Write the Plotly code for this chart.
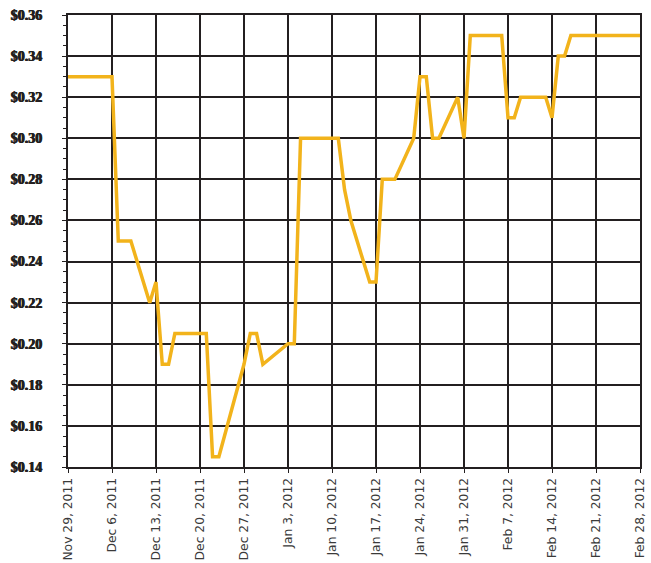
import plotly.graph_objects as go

dates = [
    "2011-11-29", "2011-11-30", "2011-12-01", "2011-12-02", "2011-12-05", "2011-12-06",
    "2011-12-07", "2011-12-08", "2011-12-09", "2011-12-12", "2011-12-13", "2011-12-14",
    "2011-12-15", "2011-12-16", "2011-12-19", "2011-12-20", "2011-12-21", "2011-12-22",
    "2011-12-23", "2011-12-27", "2011-12-28", "2011-12-29", "2011-12-30", "2012-01-03",
    "2012-01-04", "2012-01-05", "2012-01-06", "2012-01-09", "2012-01-10", "2012-01-11",
    "2012-01-12", "2012-01-13", "2012-01-16", "2012-01-17", "2012-01-18", "2012-01-19",
    "2012-01-20", "2012-01-23", "2012-01-24", "2012-01-25", "2012-01-26", "2012-01-27",
    "2012-01-30", "2012-01-31", "2012-02-01", "2012-02-02", "2012-02-03", "2012-02-06",
    "2012-02-07", "2012-02-08", "2012-02-09", "2012-02-10", "2012-02-13", "2012-02-14",
    "2012-02-15", "2012-02-16", "2012-02-17", "2012-02-20", "2012-02-21", "2012-02-22",
    "2012-02-23", "2012-02-24", "2012-02-27", "2012-02-28",
]
prices = [
    0.33, 0.33, 0.33, 0.33, 0.33, 0.33,
    0.25, 0.25, 0.25, 0.22, 0.23, 0.19,
    0.19, 0.205, 0.205, 0.205, 0.205, 0.145,
    0.145, 0.19, 0.205, 0.205, 0.19, 0.20,
    0.20, 0.30, 0.30, 0.30, 0.30, 0.30,
    0.275, 0.26, 0.23, 0.23, 0.28, 0.28,
    0.28, 0.30, 0.33, 0.33, 0.30, 0.30,
    0.32, 0.30, 0.35, 0.35, 0.35, 0.35,
    0.31, 0.31, 0.32, 0.32, 0.32, 0.31,
    0.34, 0.34, 0.35, 0.35, 0.35, 0.35,
    0.35, 0.35, 0.35, 0.35,
]

tick_dates = [
    "2011-11-29", "2011-12-06", "2011-12-13", "2011-12-20", "2011-12-27", "2012-01-03",
    "2012-01-10", "2012-01-17", "2012-01-24", "2012-01-31", "2012-02-07", "2012-02-14",
    "2012-02-21", "2012-02-28",
]
tick_labels = [
    "Nov 29, 2011", "Dec 6, 2011", "Dec 13, 2011", "Dec 20, 2011", "Dec 27, 2011",
    "Jan 3, 2012", "Jan 10, 2012", "Jan 17, 2012", "Jan 24, 2012", "Jan 31, 2012",
    "Feb 7, 2012", "Feb 14, 2012", "Feb 21, 2012", "Feb 28, 2012",
]
y_ticks = [0.14, 0.16, 0.18, 0.20, 0.22, 0.24, 0.26, 0.28, 0.30, 0.32, 0.34, 0.36]
y_labels = ["$%.2f" % v for v in y_ticks]

grid = "#231f20"

fig = go.Figure()
fig.add_trace(go.Scatter(
    x=dates, y=prices, mode="lines",
    line=dict(color="#F2B31B", width=3.5),
    hoverinfo="skip",
))

fig.update_layout(
    width=651, height=563,
    margin=dict(l=68, r=11, t=15, b=96),
    paper_bgcolor="white", plot_bgcolor="white",
    showlegend=False,
    xaxis=dict(
        type="date",
        range=["2011-11-29", "2012-02-28"],
        automargin=False,
        tickmode="array", tickvals=tick_dates, ticktext=tick_labels,
        tickangle=-90,
        tickfont=dict(family="DejaVu Sans", size=12.3, color="#3a3a3a"),
        showgrid=True, gridcolor=grid, gridwidth=2,
        showline=True, linecolor=grid, linewidth=2, mirror=True,
        ticks="outside", ticklen=4, tickcolor=grid, tickwidth=1,
        zeroline=False,
    ),
    yaxis=dict(
        range=[0.14, 0.36],
        automargin=False,
        tickmode="array", tickvals=y_ticks, ticktext=y_labels,
        tickfont=dict(family="Liberation Sans Narrow", size=14, color="#231f20", weight="bold",
                      shadow="0.6px 0 0 #231f20, -0.4px 0 0 #231f20"),
        showgrid=True, gridcolor=grid, gridwidth=2,
        showline=True, linecolor=grid, linewidth=2, mirror=True,
        ticks="outside", ticklen=4, tickcolor=grid, tickwidth=1,
        ticklabelstandoff=17,
        minor=dict(dtick=0.005, tick0=0.14, ticks="outside", ticklen=3, tickcolor=grid, showgrid=False),
        zeroline=False,
    ),
)

fig.write_html("out.html", config={"displayModeBar": False},
               post_script="document.body.style.margin='0';")
